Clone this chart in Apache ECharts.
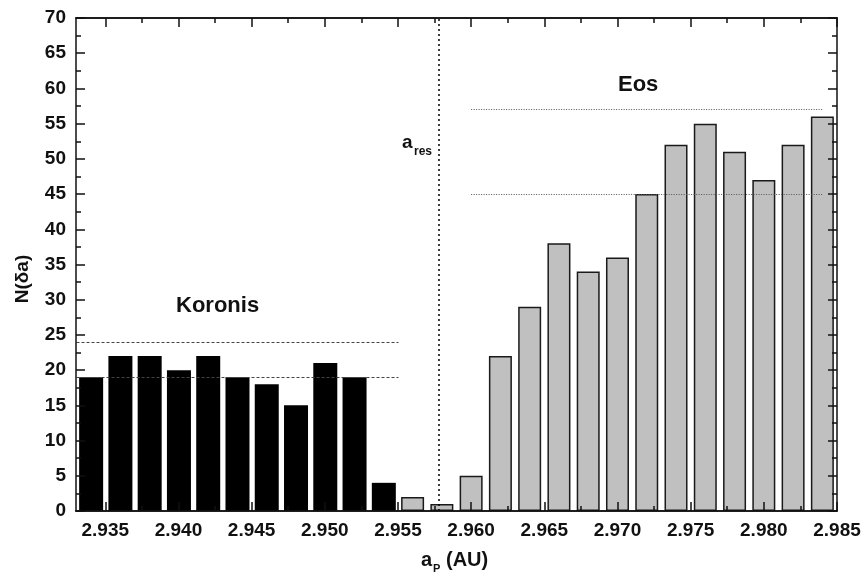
<!DOCTYPE html>
<html>
<head>
<meta charset="utf-8">
<script src="https://cdn.jsdelivr.net/npm/echarts@6/dist/echarts.min.js"></script>
<style>
  html, body { margin: 0; padding: 0; background: #fff; }
  #chart { width: 865px; height: 575px; }
</style>
</head>
<body>
<div id="chart"></div>
<script>
// bin centres (AU) and counts per bin
var koronisA = [2.934, 2.936, 2.938, 2.940, 2.942, 2.944, 2.946, 2.948, 2.950, 2.952, 2.954]
var koronisN = [19, 22, 22, 20, 22, 19, 18, 15, 21, 19, 4]
var eosA = [2.956, 2.958, 2.960, 2.962, 2.964, 2.966, 2.968, 2.970, 2.972, 2.974, 2.976, 2.978, 2.980, 2.982, 2.984]
var eosN = [2, 1, 5, 22, 29, 38, 34, 36, 45, 52, 55, 51, 47, 52, 56]

// reference levels
var koronisLevels = [24, 19]
var koronisSpan = [2.933, 2.955]
var eosLevels = [57, 45]
var eosSpan = [2.960, 2.984]
var aRes = 2.9578

// axis ticks
var xMajor = [2.935, 2.940, 2.945, 2.950, 2.955, 2.960, 2.965, 2.970, 2.975, 2.980, 2.985]
var xMinor = [2.9375, 2.9425, 2.9475, 2.9525, 2.9575, 2.9625, 2.9675, 2.9725, 2.9775, 2.9825]

var font = 'Liberation Sans, Arial, Helvetica, sans-serif'
var ink = '#111'

function pairs(xs, ys) {
  return xs.map(function (x, i) { return [x, ys[i]] })
}

function levelLines(levels, span) {
  return levels.map(function (v) {
    return [{ coord: [span[0], v] }, { coord: [span[1], v] }]
  })
}

function xAxisOf(pos, ticks, len, labels) {
  return {
    type: 'value',
    position: pos,
    min: 2.933,
    max: 2.985,
    z: 5,
    axisLine: { show: true, onZero: false, lineStyle: { color: ink, width: 1.5 } },
    axisTick: { show: true, inside: true, length: len, customValues: ticks, lineStyle: { color: ink, width: 1.5 } },
    axisLabel: labels ? {
      show: true,
      customValues: xMajor,
      formatter: function (v) { return v.toFixed(3) },
      margin: 10,
      fontFamily: font,
      fontWeight: 'bold',
      fontSize: 19,
      color: ink
    } : { show: false },
    splitLine: { show: false }
  }
}

function yAxisOf(pos, labels) {
  return {
    type: 'value',
    position: pos,
    min: 0,
    max: 70,
    interval: 5,
    z: 5,
    axisLine: { show: true, onZero: false, lineStyle: { color: ink, width: 1.5 } },
    axisTick: { show: true, inside: true, length: 9, lineStyle: { color: ink, width: 1.5 } },
    minorTick: { show: true, splitNumber: 2, length: 5, lineStyle: { color: ink, width: 1.5 } },
    axisLabel: labels ? {
      show: true,
      margin: 10,
      fontFamily: font,
      fontWeight: 'bold',
      fontSize: 19,
      color: ink
    } : { show: false },
    splitLine: { show: false }
  }
}

var chart = echarts.init(document.getElementById('chart'), null, { renderer: 'canvas' })

chart.setOption({
  animation: false,
  backgroundColor: '#fff',
  grid: { left: 76, right: 28, top: 18, bottom: 64 },
  xAxis: [
    xAxisOf('bottom', xMajor, 9, true),
    xAxisOf('bottom', xMinor, 5, false),
    xAxisOf('top', xMajor, 9, false),
    xAxisOf('top', xMinor, 5, false)
  ],
  yAxis: [
    yAxisOf('left', true),
    yAxisOf('right', false)
  ],
  series: [
    {
      name: 'Koronis',
      type: 'bar',
      xAxisIndex: 0,
      yAxisIndex: 0,
      barWidth: 24,
      barGap: '-100%',
      data: pairs(koronisA, koronisN),
      itemStyle: { color: '#000' },
      markLine: {
        silent: true,
        symbol: 'none',
        label: { show: false },
        lineStyle: { color: '#444', type: [3, 2], width: 1 },
        data: levelLines(koronisLevels, koronisSpan)
      }
    },
    {
      name: 'Eos',
      type: 'bar',
      xAxisIndex: 0,
      yAxisIndex: 0,
      barWidth: 23,
      barGap: '-100%',
      data: pairs(eosA, eosN),
      itemStyle: { color: '#c0c0c0', borderColor: '#1a1a1a', borderWidth: 1.5 },
      markLine: {
        silent: true,
        symbol: 'none',
        label: { show: false },
        data: levelLines(eosLevels, eosSpan).map(function (d) {
          d[0].lineStyle = { color: '#555', type: [1, 1.5], width: 1 }
          return d
        }).concat([
          [{ coord: [aRes, 0], lineStyle: { color: '#000', type: [2, 3], width: 1.5 } }, { coord: [aRes, 70] }]
        ])
      }
    }
  ],
  graphic: [
    {
      type: 'text', left: 176, top: 295,
      style: { text: 'Koronis', font: 'bold 22px ' + font, fill: ink }
    },
    {
      type: 'text', left: 618, top: 74,
      style: { text: 'Eos', font: 'bold 22px ' + font, fill: ink }
    },
    {
      type: 'text', left: 402, top: 133,
      style: { text: 'a', font: 'bold 19px ' + font, fill: ink }
    },
    {
      type: 'text', left: 414, top: 146,
      style: { text: 'res', font: 'bold 12px ' + font, fill: ink }
    },
    {
      type: 'text', x: 23, y: 279, rotation: Math.PI / 2,
      style: { text: 'N(δa)', font: 'bold 19px ' + font, fill: ink, align: 'center', verticalAlign: 'middle' }
    },
    {
      type: 'text', left: 421, top: 550,
      style: { text: 'a', font: 'bold 20px ' + font, fill: ink }
    },
    {
      type: 'text', left: 433, top: 563,
      style: { text: 'P', font: 'bold 11px ' + font, fill: ink }
    },
    {
      type: 'text', left: 446, top: 550,
      style: { text: '(AU)', font: 'bold 20px ' + font, fill: ink }
    }
  ]
})
</script>
</body>
</html>
